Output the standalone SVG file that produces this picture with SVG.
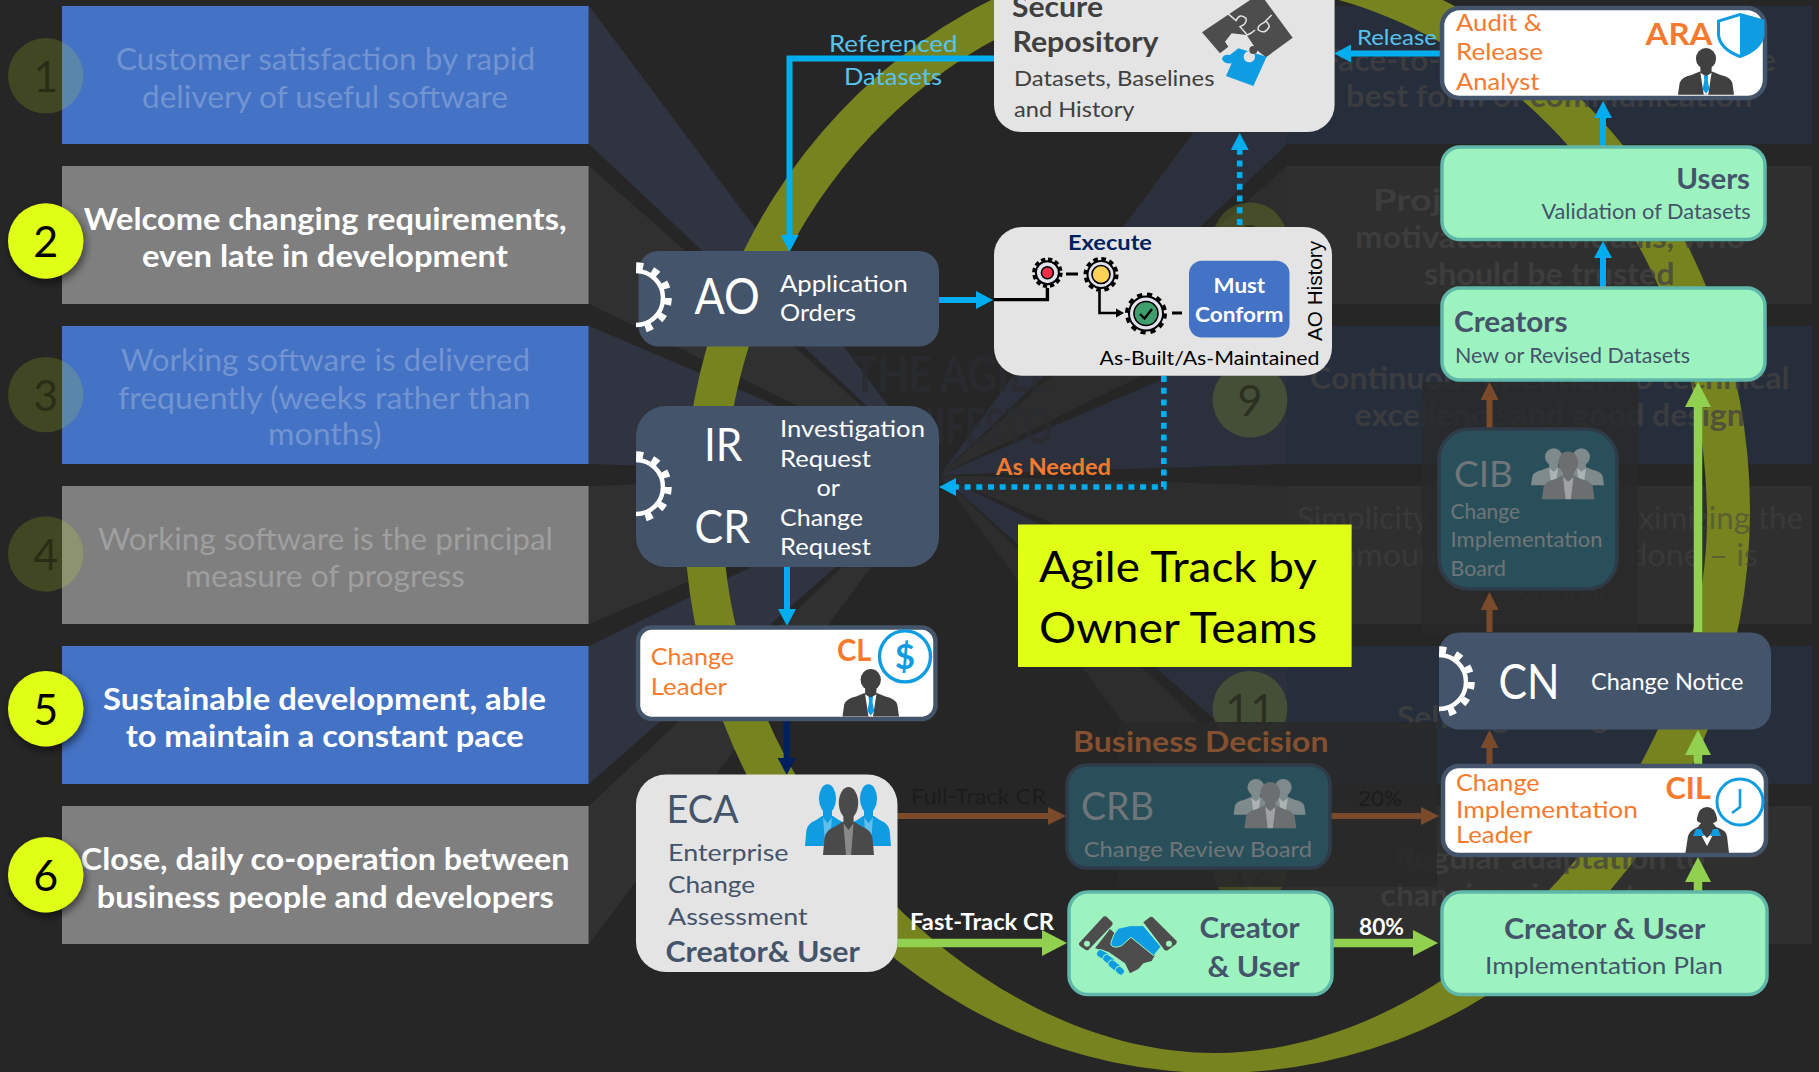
<svg xmlns="http://www.w3.org/2000/svg" xmlns:xlink="http://www.w3.org/1999/xlink" width="1819" height="1072" viewBox="0 0 1819 1072">
<style>
text{font-family:"Lato","Liberation Sans",sans-serif}
.b{font-weight:700}
.lt{font-size:30px;fill:#fff;text-anchor:start}
.dimL{fill-opacity:.25}
.rt{font-size:30px;font-weight:700;fill:#424242;fill-opacity:.75}
.rl{font-size:30px;fill:#424242;fill-opacity:.55}
.num{font-size:43px;text-anchor:middle;fill:#000}
.bl{fill:#4472c4}.gr{fill:#7f7f7f}
.rn{fill:#262d3b}.rg{fill:#2f2f2f}
.wn{fill:#2f3440}.wg{fill:#303030}.wrn{fill:#2b303c}.wrg{fill:#2d2d2d}
.cy{fill:#e0ff17}
.dimc{fill-opacity:.15}
.w{fill:#fff}.o{fill:#f57a2e}.sl{fill:#44546a}.lb{fill:#56c4ef}.k{fill:#000}.dk{fill:#404040}
.navy{fill:#44546a}.light{fill:#e4e4e4}
.mint{fill:#9df3c0;stroke:#5fb8a9;stroke-width:3.5}
.card{fill:#fff;stroke:#44546a;stroke-width:4.5}
.dimn{fill:#29505a;stroke:#2f3b49;stroke-width:3.5}
.dg{fill:#6f7578}
.cb{fill:none;stroke:#00adef;stroke-width:6}
.cd{fill:none;stroke:#00adef;stroke-width:5.6;stroke-dasharray:6 5.7}
.cbr{fill:none;stroke:#7a4a2b;stroke-width:6}
.cgr{fill:none;stroke:#92d050;stroke-width:8.5}
.cn{fill:none;stroke:#002060;stroke-width:6}
</style>
<defs>
<filter id="sh" x="-30%" y="-30%" width="170%" height="170%"><feDropShadow dx="2" dy="4" stdDeviation="4" flood-color="#000" flood-opacity=".55"/></filter>
<marker id="mb" markerUnits="userSpaceOnUse" markerWidth="17" markerHeight="18" refX="0" refY="9" orient="auto" viewBox="0 0 17 18"><path d="M0,0L17,9L0,18Z" fill="#00adef"/></marker>
<marker id="mr" markerUnits="userSpaceOnUse" markerWidth="18" markerHeight="18" refX="0" refY="9" orient="auto" viewBox="0 0 18 18"><path d="M0,0L18,9L0,18Z" fill="#7a4a2b"/></marker>
<marker id="mg" markerUnits="userSpaceOnUse" markerWidth="25" markerHeight="26" refX="0" refY="13" orient="auto" viewBox="0 0 25 26"><path d="M0,0L25,13L0,26Z" fill="#92d050"/></marker>
<marker id="mn" markerUnits="userSpaceOnUse" markerWidth="17" markerHeight="18" refX="0" refY="9" orient="auto" viewBox="0 0 17 18"><path d="M0,0L17,9L0,18Z" fill="#002060"/></marker>
<g id="gear"><circle r="27" fill="none" stroke="#fff" stroke-width="4.5"/><circle r="32" fill="none" stroke="#fff" stroke-width="7.5" stroke-dasharray="7 9.75"/></g>
<clipPath id="cg1"><rect x="636" y="262" width="40" height="72"/></clipPath>
<clipPath id="cg2"><rect x="636" y="451" width="40" height="72"/></clipPath>
<clipPath id="cg3"><rect x="1439" y="646" width="40" height="72"/></clipPath>
<g id="man">
<path d="M0,100L3,74Q6,62 24,57L38,50L62,50L76,57Q94,62 97,74L100,100Z" fill="#404040"/>
<ellipse cx="50" cy="21" rx="18" ry="23" fill="#404040"/><rect x="40" y="36" width="20" height="16" fill="#404040"/>
<path d="M40,52L50,60L60,52L54,100L46,100Z" fill="#fff"/><path d="M46,58L54,58L53,68L56,88L50,98L44,88L47,68Z" fill="#0f9ce0"/>
</g>
<g id="guy">
<path d="M0,100L3,74Q6,62 24,57L38,50L62,50L76,57Q94,62 97,74L100,100Z"/>
<ellipse cx="50" cy="21" rx="19" ry="24"/><rect x="40" y="36" width="20" height="16"/>
<path d="M40,52L50,62L60,52L55,100L45,100Z" fill="#fff" fill-opacity=".35"/>
</g>
<g id="trio" fill="#7f8a8c">
<use xlink:href="#guy" transform="translate(0,0) scale(.62,.62)"/>
<use xlink:href="#guy" transform="translate(38,0) scale(.62,.62)"/>
<use xlink:href="#guy" fill="#6c6f70" transform="translate(15,6) scale(.72,.8)"/>
</g>
</defs>
<rect id="bg" width="1819" height="1072" fill="#262626"/>
<g id="fan">
<polygon class="wn" points="589,6 589,144 940,475"/>
<polygon class="wg" points="589,166 589,304 940,475"/>
<polygon class="wn" points="589,326 589,464 940,475"/>
<polygon class="wg" points="589,486 589,624 940,475"/>
<polygon class="wn" points="589,646 589,784 940,475"/>
<polygon class="wg" points="589,806 589,944 940,475"/>
<polygon class="wrn" points="1287,6 1287,144 940,475"/>
<polygon class="wrg" points="1287,166 1287,304 940,475"/>
<polygon class="wrn" points="1287,326 1287,464 940,475"/>
<polygon class="wrg" points="1287,486 1287,624 940,475"/>
<polygon class="wrn" points="1287,646 1287,784 940,475"/>
<polygon class="wrg" points="1287,806 1287,944 940,475"/>
</g>
<g id="hub-title" fill="#2b2c30" fill-opacity=".8" font-size="50" font-weight="700">
<text x="853" y="392" textLength="200" lengthAdjust="spacingAndGlyphs">THE AGILE</text>
<text x="850" y="444" textLength="203" lengthAdjust="spacingAndGlyphs">MANIFESTO</text>
</g>
<g id="principles-left">
<rect class="bl" x="62" y="6" width="526.6" height="138"/>
<rect class="gr" x="62" y="166" width="526.6" height="138"/>
<rect class="bl" x="62" y="326" width="526.6" height="138"/>
<rect class="gr" x="62" y="486" width="526.6" height="138"/>
<rect class="bl" x="62" y="646" width="526.6" height="138"/>
<rect class="gr" x="62" y="806" width="526.6" height="138"/>
<g>
<text class="lt dimL" x="116" y="70.4" textLength="419" lengthAdjust="spacingAndGlyphs">Customer satisfaction by rapid</text>
<text class="lt dimL" x="142" y="107.6" textLength="366" lengthAdjust="spacingAndGlyphs">delivery of useful software</text>
<text class="lt b" x="83.7" y="230.2" textLength="483" lengthAdjust="spacingAndGlyphs">Welcome changing requirements,</text>
<text class="lt b" x="142" y="267.2" textLength="366" lengthAdjust="spacingAndGlyphs">even late in development</text>
<text class="lt dimL" x="121" y="371.2" textLength="409" lengthAdjust="spacingAndGlyphs">Working software is delivered</text>
<text class="lt dimL" x="118" y="408.6" textLength="412.6" lengthAdjust="spacingAndGlyphs">frequently (weeks rather than</text>
<text class="lt dimL" x="268" y="445.2" textLength="113.6" lengthAdjust="spacingAndGlyphs">months)</text>
<text class="lt dimL" x="98" y="550.2" textLength="455" lengthAdjust="spacingAndGlyphs">Working software is the principal</text>
<text class="lt dimL" x="185" y="587" textLength="280" lengthAdjust="spacingAndGlyphs">measure of progress</text>
<text class="lt b" x="103" y="710.2" textLength="443" lengthAdjust="spacingAndGlyphs">Sustainable development, able</text>
<text class="lt b" x="125.7" y="747.2" textLength="398" lengthAdjust="spacingAndGlyphs">to maintain a constant pace</text>
<text class="lt b" x="80.8" y="870.4" textLength="488.6" lengthAdjust="spacingAndGlyphs">Close, daily co-operation between</text>
<text class="lt b" x="96.7" y="907.6" textLength="457.2" lengthAdjust="spacingAndGlyphs">business people and developers</text>
</g>
</g>
<g id="badges-left">
<g id="b1"><circle class="cy dimc" cx="45.7" cy="75.8" r="37.7"/><text class="num" fill-opacity=".35" x="45.7" y="92">1</text></g>
<g id="b2"><circle class="cy" cx="45.7" cy="241" r="37.7" filter="url(#sh)"/><text class="num" x="45.7" y="256.6">2</text></g>
<g id="b3"><circle class="cy dimc" cx="45.7" cy="394.6" r="37.7"/><text class="num" fill-opacity=".35" x="45.7" y="410.6">3</text></g>
<g id="b4"><circle class="cy dimc" cx="45.7" cy="554" r="37.7"/><text class="num" fill-opacity=".35" x="45.7" y="570">4</text></g>
<g id="b5"><circle class="cy" cx="45.7" cy="708.7" r="37.7" filter="url(#sh)"/><text class="num" x="45.7" y="724.5">5</text></g>
<g id="b6"><circle class="cy" cx="45.7" cy="874.7" r="37.7" filter="url(#sh)"/><text class="num" x="45.7" y="890.5">6</text></g>
</g>
<g id="principles-right">
<rect class="rn" x="1287" y="6" width="525" height="138"/>
<rect class="rg" x="1287" y="166" width="525" height="138"/>
<rect class="rn" x="1287" y="326" width="525" height="138"/>
<rect class="rg" x="1287" y="486" width="525" height="138"/>
<rect class="rn" x="1287" y="646" width="525" height="138"/>
<rect class="rg" x="1287" y="806" width="525" height="138"/>
</g>
<path id="ring" fill="#76831f" fill-rule="evenodd" d="M684,510a533,563 0 1,0 1066,0a533,563 0 1,0 -1066,0ZM723,518C723,223 943,-17 1215,-17C1487,-17 1707,223 1707,518C1707,785.5 1461,1053 1215,1053C969,1053 723,785.5 723,518Z"/>
<g id="badges-right">
<g id="b8"><circle class="cy dimc" cx="1250" cy="240" r="37.5"/><text class="num" fill-opacity=".35" x="1250" y="256">8</text></g>
<g id="b9"><circle class="cy dimc" cx="1250" cy="400" r="37.5"/><text class="num" fill-opacity=".4" x="1250" y="416">9</text></g>
<g id="b11"><circle class="cy dimc" cx="1250" cy="708.5" r="37.5"/><text class="num" fill-opacity=".4" x="1250" y="724.5">11</text></g>
<g id="b12"><circle class="cy dimc" cx="1250" cy="868" r="37.5"/><text class="num" fill-opacity=".35" x="1250" y="884">12</text></g>
</g>
<g id="principles-right-text">
<text class="rt" x="1322" y="70.6" textLength="454" lengthAdjust="spacingAndGlyphs">Face-to-face conversation is the</text>
<text class="rt" x="1346" y="106.8" textLength="406.5" lengthAdjust="spacingAndGlyphs">best form of communication</text>
<text class="rt" x="1373" y="210.7" textLength="352" lengthAdjust="spacingAndGlyphs">Projects built around</text>
<text class="rt" x="1355" y="248" textLength="390" lengthAdjust="spacingAndGlyphs">motivated individuals, who</text>
<text class="rt" x="1424" y="285" textLength="250.5" lengthAdjust="spacingAndGlyphs">should be trusted</text>
<text class="rt" x="1310" y="389" textLength="479.5" lengthAdjust="spacingAndGlyphs">Continuous attention to technical</text>
<text class="rt" x="1354.5" y="426" textLength="390.5" lengthAdjust="spacingAndGlyphs">excellence and good design</text>
<text class="rl" x="1297" y="528.6" textLength="506" lengthAdjust="spacingAndGlyphs">Simplicity – the art of maximizing the</text>
<text class="rl" x="1340" y="566" textLength="418" lengthAdjust="spacingAndGlyphs">amount of work not done – is</text>
<text class="rl" x="1504" y="603.5" textLength="101" lengthAdjust="spacingAndGlyphs">essential</text>
<text class="rt" x="1397" y="728" textLength="304" lengthAdjust="spacingAndGlyphs">Self-organizing teams</text>
<text class="rt" x="1395" y="869" textLength="310" lengthAdjust="spacingAndGlyphs">Regular adaptation to</text>
<text class="rt" x="1380.6" y="906" textLength="336" lengthAdjust="spacingAndGlyphs">changing circumstances</text>
</g>
<g id="dimmers">
<rect x="1118" y="722" width="319" height="165" fill="#292929" fill-opacity=".88"/>
<rect x="1422" y="382" width="216" height="252" fill="#292929" fill-opacity=".8"/>
</g>
<g id="connectors">
<path class="cb" marker-end="url(#mb)" d="M994,58.5H789.5V235"/>
<path class="cb" marker-end="url(#mb)" d="M939,300H976"/>
<path class="cd" marker-end="url(#mb)" d="M1239.7,260V150"/>
<path class="cd" marker-end="url(#mb)" d="M1163.8,376V487H956"/>
<path class="cb" marker-end="url(#mb)" d="M787,567V609"/>
<path class="cn" marker-end="url(#mn)" d="M786.7,721V758"/>
<path class="cbr" marker-end="url(#mr)" d="M897.5,816H1048"/>
<path class="cgr" marker-end="url(#mg)" d="M897.5,943H1042"/>
<path class="cgr" marker-end="url(#mg)" d="M1333,943H1413"/>
<path class="cbr" marker-end="url(#mr)" d="M1330.5,816H1421"/>
<path class="cgr" marker-end="url(#mg)" d="M1698,891V882"/>
<path class="cgr" marker-end="url(#mg)" d="M1698,764V755"/>
<path class="cgr" marker-end="url(#mg)" d="M1698,632V407"/>
<path class="cbr" marker-end="url(#mr)" d="M1489.5,764V748"/>
<path class="cbr" marker-end="url(#mr)" d="M1489.5,632V610"/>
<path class="cbr" marker-end="url(#mr)" d="M1489.5,428V400"/>
<path class="cb" marker-end="url(#mb)" d="M1603,287.5V258"/>
<path class="cb" marker-end="url(#mb)" d="M1603,147V118"/>
<path class="cb" marker-end="url(#mb)" d="M1440,53.4H1351"/>
</g>
<g id="connector-labels">
<text class="lb" font-size="24" x="829" y="51.6" textLength="128.5" lengthAdjust="spacingAndGlyphs">Referenced</text>
<text class="lb" font-size="24" x="844" y="85" textLength="98" lengthAdjust="spacingAndGlyphs">Datasets</text>
<text class="lb" font-size="22" x="1357" y="44.8" textLength="80" lengthAdjust="spacingAndGlyphs">Release</text>
<text class="o b" font-size="22" x="996" y="474.5" textLength="115" lengthAdjust="spacingAndGlyphs">As Needed</text>
<text fill="#1c1c1c" font-size="22" x="911" y="804" textLength="135" lengthAdjust="spacingAndGlyphs">Full-Track CR</text>
<text class="w b" font-size="22" x="910" y="930" textLength="144" lengthAdjust="spacingAndGlyphs">Fast-Track CR</text>
<text class="w b" font-size="22" x="1359" y="934.6" textLength="45" lengthAdjust="spacingAndGlyphs">80%</text>
<text fill="#1c1c1c" font-size="22" x="1358" y="805.5" textLength="44" lengthAdjust="spacingAndGlyphs">20%</text>
<text fill="#84502f" class="b" font-size="29" x="1073" y="752" textLength="255.5" lengthAdjust="spacingAndGlyphs">Business Decision</text>
</g>
<g id="repository">
<path class="light" d="M994,-10H1334.6V105a27,27 0 0 1 -27,27H1021a27,27 0 0 1 -27,-27Z"/>
<text class="dk b" font-size="29" x="1012" y="17" textLength="91" lengthAdjust="spacingAndGlyphs">Secure</text>
<text class="dk b" font-size="29" x="1012.5" y="51.6" textLength="146" lengthAdjust="spacingAndGlyphs">Repository</text>
<text class="dk" font-size="22" x="1014" y="86" textLength="200.5" lengthAdjust="spacingAndGlyphs">Datasets, Baselines</text>
<text class="dk" font-size="22" x="1014" y="117" textLength="120.5" lengthAdjust="spacingAndGlyphs">and History</text>
<g id="puzzle" transform="translate(1190,0) scale(.3333)">
<path fill="#4d4d4d" d="M36,97L210,-20L308,113L228,172L200,150L170,105L125,100L105,125L115,140L90,160Z"/>
<path fill="none" stroke="#e4e4e4" stroke-width="4.5" d="M113,40L138,62Q150,38 168,55Q172,72 150,80L172,105M245,45L222,68Q200,78 205,90Q225,105 238,80Q235,68 228,65M172,105Q185,100 195,90"/>
<path fill="#0f9ce0" d="M145,145L230,170L190,258L108,228L125,190Q100,192 96,176Q100,162 120,165Z"/>
<circle cx="178" cy="170" r="17" fill="#e4e4e4"/>
<circle cx="190" cy="150" r="12" fill="#4d4d4d"/>
</g>
</g>
<g id="ao-history">
<rect class="light" x="994" y="227" width="338" height="148.7" rx="28"/>
<text fill="#002060" class="b" font-size="21" x="1068" y="250" textLength="84" lengthAdjust="spacingAndGlyphs">Execute</text>
<path fill="none" stroke="#000" stroke-width="3.4" d="M994,299.6H1047.4V288"/>
<path fill="none" stroke="#000" stroke-width="2.6" d="M1099.5,292V313H1116"/>
<path d="M1116,308.5L1124,313L1116,317.5Z" fill="#000"/>
<path stroke="#000" stroke-width="3" d="M1066,274H1078M1172,313H1182"/>
<g id="g1"><circle cx="1047.4" cy="272.7" r="11.5" fill="#e3e3ee" stroke="#000" stroke-width="2"/><circle cx="1047.4" cy="272.7" r="13.5" fill="none" stroke="#000" stroke-width="3.5" stroke-dasharray="4.2 2.9"/><circle cx="1047.4" cy="272.7" r="6" fill="#ee2f45" stroke="#000" stroke-width="1.6"/></g>
<g id="g2"><circle cx="1101" cy="274.5" r="13.5" fill="#e3e3ee" stroke="#000" stroke-width="2"/><circle cx="1101" cy="274.5" r="15.5" fill="none" stroke="#000" stroke-width="4" stroke-dasharray="4.6 3.5"/><circle cx="1101" cy="274.5" r="9" fill="#ffd257" stroke="#000" stroke-width="1.6"/></g>
<g id="g3"><circle cx="1146" cy="313.5" r="17" fill="#e3e3ee" stroke="#000" stroke-width="2"/><circle cx="1146" cy="313.5" r="19" fill="none" stroke="#000" stroke-width="4" stroke-dasharray="5.1 4.9"/><circle cx="1146" cy="313.5" r="12" fill="#3f9e6e" stroke="#000" stroke-width="1.6"/><path d="M1140,314L1144.5,318.5L1152,309" fill="none" stroke="#000" stroke-width="2.4"/></g>
<rect x="1189" y="260.7" width="100.5" height="76.8" rx="13" fill="#4472c4"/>
<text class="w b" font-size="21" x="1213.6" y="293.4" textLength="51.5" lengthAdjust="spacingAndGlyphs">Must</text>
<text class="w b" font-size="21" x="1195" y="322" textLength="88.4" lengthAdjust="spacingAndGlyphs">Conform</text>
<text class="k" style="font-family:'Liberation Sans',sans-serif" font-size="21" transform="translate(1322,341) rotate(-90)" textLength="100" lengthAdjust="spacingAndGlyphs">AO History</text>
<text class="k" font-size="19.5" x="1099.5" y="365" textLength="220" lengthAdjust="spacingAndGlyphs">As-Built/As-Maintained</text>
</g>
<g id="ao">
<rect class="navy" x="638.6" y="251" width="300.4" height="95.4" rx="20"/>
<g clip-path="url(#cg1)"><use xlink:href="#gear" transform="translate(636,298)"/></g>
<text class="w" font-size="50" x="694.5" y="314" textLength="65.2" lengthAdjust="spacingAndGlyphs">AO</text>
<text class="w" font-size="24" x="780" y="292" textLength="127.7" lengthAdjust="spacingAndGlyphs">Application</text>
<text class="w" font-size="24" x="780" y="321" textLength="76" lengthAdjust="spacingAndGlyphs">Orders</text>
</g>
<g id="ir-cr">
<rect class="navy" x="636" y="406" width="303" height="161" rx="30"/>
<g clip-path="url(#cg2)"><use xlink:href="#gear" transform="translate(636,487)"/></g>
<text class="w" font-size="47" x="704" y="460.7" textLength="38.4" lengthAdjust="spacingAndGlyphs">IR</text>
<text class="w" font-size="47" x="694.5" y="543" textLength="55.5" lengthAdjust="spacingAndGlyphs">CR</text>
<text class="w" font-size="24" x="780" y="437" textLength="145" lengthAdjust="spacingAndGlyphs">Investigation</text>
<text class="w" font-size="24" x="780" y="466.6" textLength="91" lengthAdjust="spacingAndGlyphs">Request</text>
<text class="w" font-size="24" x="816.5" y="496" textLength="23.5" lengthAdjust="spacingAndGlyphs">or</text>
<text class="w" font-size="24" x="780" y="526" textLength="83" lengthAdjust="spacingAndGlyphs">Change</text>
<text class="w" font-size="24" x="780" y="555" textLength="91" lengthAdjust="spacingAndGlyphs">Request</text>
</g>
<g id="change-leader">
<rect class="card" x="638" y="627.5" width="297.5" height="91.5" rx="14"/>
<text class="o" font-size="24" x="650.7" y="665" textLength="83.3" lengthAdjust="spacingAndGlyphs">Change</text>
<text class="o" font-size="24" x="650.7" y="695" textLength="76.3" lengthAdjust="spacingAndGlyphs">Leader</text>
<text class="o b" font-size="30" x="837" y="661" textLength="34.4" lengthAdjust="spacingAndGlyphs">CL</text>
<circle cx="905" cy="656.4" r="25.5" fill="#fff" stroke="#0f9ce0" stroke-width="3.4"/>
<text fill="#0f9ce0" class="b" font-size="35" text-anchor="middle" x="905" y="669">$</text>
<use xlink:href="#man" transform="translate(842.5,670) scale(.565,.466)"/>
</g>
<g id="eca">
<rect class="light" x="636" y="774.5" width="261.5" height="197.5" rx="30"/>
<text class="sl" font-size="39" x="666.5" y="823.4" textLength="72.2" lengthAdjust="spacingAndGlyphs">ECA</text>
<text class="sl" font-size="24" x="668" y="861.3" textLength="120.5" lengthAdjust="spacingAndGlyphs">Enterprise</text>
<text class="sl" font-size="24" x="668" y="893" textLength="87" lengthAdjust="spacingAndGlyphs">Change</text>
<text class="sl" font-size="24" x="668" y="925.3" textLength="139.6" lengthAdjust="spacingAndGlyphs">Assessment</text>
<text class="sl b" font-size="29" x="665.6" y="962" textLength="194.2" lengthAdjust="spacingAndGlyphs">Creator&amp; User</text>
<use xlink:href="#guy" fill="#0f9ce0" transform="translate(805,786) scale(.45,.6)"/>
<use xlink:href="#guy" fill="#0f9ce0" transform="translate(846,786) scale(.45,.6)"/>
<use xlink:href="#guy" fill="#4a4a4a" transform="translate(823,789) scale(.51,.66)"/>
</g>
<g id="crb">
<rect class="dimn" x="1067" y="765" width="263" height="103" rx="20"/>
<text class="dg" font-size="39" x="1081" y="820" textLength="73" lengthAdjust="spacingAndGlyphs">CRB</text>
<text class="dg" font-size="22" x="1083.7" y="857" textLength="228.3" lengthAdjust="spacingAndGlyphs">Change Review Board</text>
<use xlink:href="#trio" transform="translate(1233.6,780) scale(.72,.56)"/>
</g>
<g id="creator-user-mid">
<rect class="mint" x="1069" y="892" width="263" height="102.5" rx="19"/>
<text class="sl b" font-size="28" x="1199.6" y="938" textLength="100" lengthAdjust="spacingAndGlyphs">Creator</text>
<text class="sl b" font-size="28" x="1207.5" y="976.6" textLength="92.2" lengthAdjust="spacingAndGlyphs">&amp; User</text>
<g id="handshake" transform="translate(1075,905) scale(.3333)">
<path fill="#4d4d4d" d="M12,115L85,35Q92,32 98,38L112,52Q115,58 110,62L40,135Q34,138 28,132L14,122Q11,118 12,115Z"/>
<path fill="#4d4d4d" d="M205,52L225,36Q230,34 235,38L305,108Q307,114 302,118L278,136Q272,138 268,134Z"/>
<circle cx="36" cy="116" r="9" fill="#9df3c0"/><circle cx="282" cy="116" r="9" fill="#9df3c0"/>
<path fill="#4d4d4d" d="M60,130L105,72L125,90L165,95L240,150L230,168L205,175L190,192L165,205L150,175L100,140Z"/>
<path fill="#0f9ce0" stroke="#9df3c0" stroke-width="3" d="M108,112Q115,85 130,70L165,62H205L258,125L236,152L168,97L140,122Q118,132 108,120Z"/>
<g fill="#0f9ce0" stroke="#9df3c0" stroke-width="3">
<rect x="-20" y="-12" width="40" height="24" rx="12" transform="translate(84,150) rotate(28)"/>
<rect x="-20" y="-12" width="40" height="24" rx="12" transform="translate(102,165) rotate(35)"/>
<rect x="-20" y="-12" width="40" height="24" rx="12" transform="translate(118,182) rotate(38)"/>
<rect x="-14" y="-11" width="28" height="22" rx="11" transform="translate(135,197) rotate(40)"/>
</g>
</g>
</g>
<g id="plan">
<rect class="mint" x="1442" y="892" width="325" height="102.5" rx="19"/>
<text class="sl b" font-size="28" x="1504" y="938.7" textLength="201.4" lengthAdjust="spacingAndGlyphs">Creator &amp; User</text>
<text class="sl" font-size="24" x="1485" y="974.2" textLength="237.8" lengthAdjust="spacingAndGlyphs">Implementation Plan</text>
</g>
<g id="cil">
<rect class="card" x="1443" y="766" width="323" height="89" rx="16"/>
<text class="o" font-size="24" x="1456" y="791" textLength="83.6" lengthAdjust="spacingAndGlyphs">Change</text>
<text class="o" font-size="24" x="1456" y="817.5" textLength="182" lengthAdjust="spacingAndGlyphs">Implementation</text>
<text class="o" font-size="24" x="1456" y="843.3" textLength="76" lengthAdjust="spacingAndGlyphs">Leader</text>
<text class="o b" font-size="31" x="1665.5" y="798.6" textLength="45.5" lengthAdjust="spacingAndGlyphs">CIL</text>
<path id="woman" fill="#404040" d="M1685.4,853L1688,836Q1690,830 1698,827L1701,823Q1696,822 1697,818Q1699,807 1707,807Q1715,807 1717,818Q1718,822 1713,823L1716,827Q1726,830 1727,836L1729,853Z"/>
<path d="M1698,829L1707,838L1716,829L1707,846Z" fill="#fff"/>
<path d="M1696,829L1701,829L1704,836L1693,836ZM1718,829L1713,829L1710,836L1721,836Z" fill="#0f9ce0"/>
<circle cx="1740" cy="802" r="23" fill="none" stroke="#0f9ce0" stroke-width="3"/>
<path d="M1740,789V807L1732,813" fill="none" stroke="#0f9ce0" stroke-width="2.6"/>
</g>
<g id="cn">
<rect class="navy" x="1439" y="632.6" width="332" height="97" rx="20"/>
<g clip-path="url(#cg3)"><use xlink:href="#gear" transform="translate(1439,682)"/></g>
<text class="w" font-size="48" x="1498.5" y="698.7" textLength="61" lengthAdjust="spacingAndGlyphs">CN</text>
<text class="w" font-size="23" x="1591" y="690" textLength="152.5" lengthAdjust="spacingAndGlyphs">Change Notice</text>
</g>
<g id="cib">
<rect class="dimn" x="1439" y="429" width="178" height="160" rx="30"/>
<text class="dg" font-size="37" x="1454" y="486.6" textLength="59" lengthAdjust="spacingAndGlyphs">CIB</text>
<text class="dg" font-size="21" x="1450.6" y="519" textLength="69.4" lengthAdjust="spacingAndGlyphs">Change</text>
<text class="dg" font-size="21" x="1450.6" y="547" textLength="152" lengthAdjust="spacingAndGlyphs">Implementation</text>
<text class="dg" font-size="21" x="1450.6" y="575.5" textLength="55.4" lengthAdjust="spacingAndGlyphs">Board</text>
<use xlink:href="#trio" transform="translate(1531,449.4) scale(.73,.58)"/>
</g>
<g id="creators">
<rect class="mint" x="1442" y="288" width="323" height="92" rx="18"/>
<text class="sl b" font-size="28" x="1454" y="332.3" textLength="113.5" lengthAdjust="spacingAndGlyphs">Creators</text>
<text class="sl" font-size="22" x="1455" y="363.3" textLength="235" lengthAdjust="spacingAndGlyphs">New or Revised Datasets</text>
</g>
<g id="users">
<rect class="mint" x="1442" y="147" width="323" height="92.5" rx="18"/>
<text class="sl b" font-size="28" x="1676.3" y="188.7" textLength="73.7" lengthAdjust="spacingAndGlyphs">Users</text>
<text class="sl" font-size="22" x="1541.4" y="219.4" textLength="209.3" lengthAdjust="spacingAndGlyphs">Validation of Datasets</text>
</g>
<g id="ara">
<rect class="card" x="1442" y="8" width="323" height="90" rx="18"/>
<text class="o" font-size="24" x="1456" y="31" textLength="86" lengthAdjust="spacingAndGlyphs">Audit &amp;</text>
<text class="o" font-size="24" x="1456" y="60" textLength="87" lengthAdjust="spacingAndGlyphs">Release</text>
<text class="o" font-size="24" x="1456" y="89.5" textLength="83.5" lengthAdjust="spacingAndGlyphs">Analyst</text>
<text class="o b" font-size="30" x="1645.5" y="44.8" textLength="67" lengthAdjust="spacingAndGlyphs">ARA</text>
<path fill="#fff" stroke="#0f9ce0" stroke-width="3" d="M1740,14.5L1763,21V35Q1761,49 1740,56.5Q1720,49 1718.5,35V21Z"/>
<path fill="#0f9ce0" d="M1740,14.5L1763,21V35Q1761,49 1740,56.5Z"/>
<use xlink:href="#man" transform="translate(1678,49) scale(.56,.457)"/>
</g>
<g id="title">
<rect x="1018" y="524.5" width="333.6" height="142.5" fill="#e0ff17"/>
<text class="k" font-size="43" x="1039" y="581.6" textLength="278" lengthAdjust="spacingAndGlyphs">Agile Track by</text>
<text class="k" font-size="43" x="1039" y="642.6" textLength="278" lengthAdjust="spacingAndGlyphs">Owner Teams</text>
</g>
</svg>
